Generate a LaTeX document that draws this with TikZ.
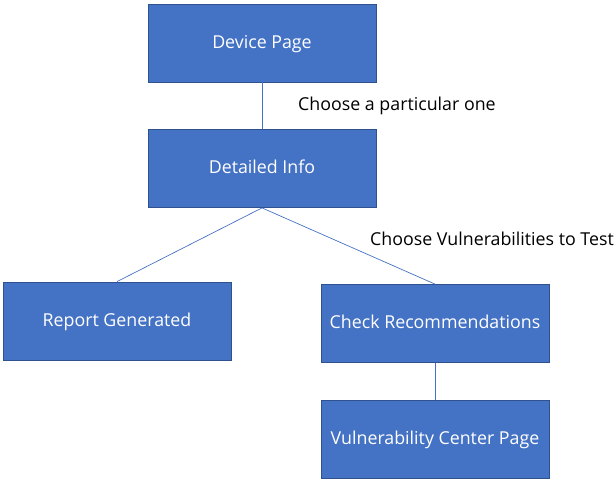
\documentclass[tikz,border=0pt]{standalone}
\usepackage{fontspec}
\setmainfont{Open Sans}
\usepackage{tikz}
\usetikzlibrary{positioning}
\usepackage{xcolor}
\definecolor{boxblue}{RGB}{68, 114, 196}
\definecolor{boxedge}{RGB}{47, 82, 143}

\begin{document}
\begin{tikzpicture}[x=1pt, y=-1pt,
    pagebox/.style={draw=boxedge, line width=0.8pt, fill=boxblue, minimum width=228pt,
        minimum height=78pt, inner sep=0pt, text=white, text height=11pt, text depth=1pt,
        font=\fontsize{17.8}{21}\selectfont},
    link/.style={draw=boxblue, line width=0.7pt},
    note/.style={anchor=west, inner sep=0pt, text=black, font=\fontsize{17.8}{21}\selectfont}]
  \useasboundingbox (0,0) rectangle (616,482);

  \node[pagebox] (device) at (262,43) {Device Page};
  \node[pagebox] (detail) at (262,168.5) {Detailed Info};
  \node[pagebox] (report) at (117,321) {Report Generated};
  \node[pagebox] (recommend) at (435,323.5) {Check Recommendations};
  \node[pagebox] (vulncenter) at (435,439.5) {Vulnerability Center Page};

  \draw[link] (device.south) -- (detail.north);
  \draw[link] (detail.south) -- (report.north);
  \draw[link] (detail.south) -- (recommend.north);
  \draw[link] (recommend.south) -- (vulncenter.north);

  \node[note] (choose1) at (298,106) {Choose a particular one};
  \node[note] (choose2) at (370,239) {Choose Vulnerabilities to Test};
\end{tikzpicture}
\end{document}
